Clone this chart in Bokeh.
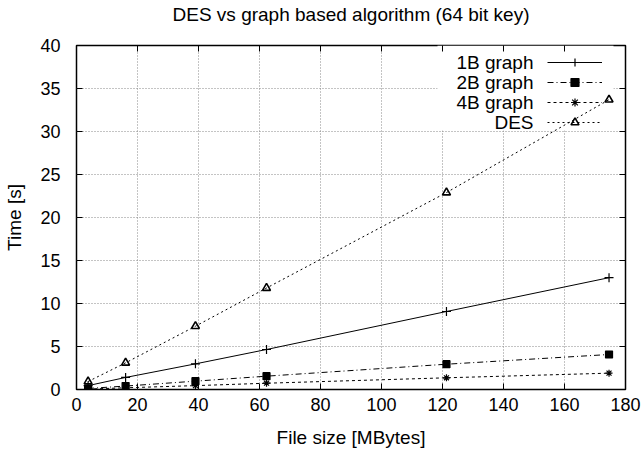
from bokeh.plotting import figure
from bokeh.models import (Range1d, FixedTicker, LinearAxis, Legend, LegendItem,
                          Label, BoxAnnotation)
from bokeh.embed import file_html
from bokeh.resources import INLINE

file_size = [3.8, 16.1, 39.0, 62.3, 121.3, 174.6]
t_1b = [0.45, 1.40, 2.98, 4.65, 9.07, 13.0]
t_2b = [0.12, 0.40, 0.97, 1.55, 2.94, 4.07]
t_4b = [0.05, 0.20, 0.45, 0.73, 1.36, 1.90]
t_des = [0.93, 3.10, 7.36, 11.8, 22.9, 33.7]
series_labels = ["1B graph", "2B graph", "4B graph", "DES"]
x_ticks = [0, 20, 40, 60, 80, 100, 120, 140, 160, 180]
y_ticks = [0, 5, 10, 15, 20, 25, 30, 35, 40]
title_text = "DES vs graph based algorithm (64 bit key)"

FONT = "Liberation Sans"

p = figure(width=644, height=453, output_backend="svg", toolbar_location=None,
           x_range=Range1d(0, 180), y_range=Range1d(0, 40),
           min_border_left=76, min_border_right=19, min_border_top=45, min_border_bottom=64)

p.outline_line_color = "black"
p.outline_line_width = 1.5

for ax in [p.xaxis[0], p.yaxis[0]]:
    ax.major_label_text_font = FONT
    ax.major_label_text_font_size = "18px"
    ax.major_label_text_color = "black"
    ax.axis_label_text_font = FONT
    ax.axis_label_text_font_size = "19px"
    ax.axis_label_text_font_style = "normal"
    ax.axis_label_text_color = "black"
    ax.major_tick_in = 6
    ax.major_tick_out = 0
    ax.minor_tick_line_color = None
    ax.axis_line_color = None
    ax.major_tick_line_color = "black"

p.xaxis[0].ticker = FixedTicker(ticks=x_ticks)
p.yaxis[0].ticker = FixedTicker(ticks=y_ticks)
p.xaxis[0].axis_label = "File size [MBytes]"
p.yaxis[0].axis_label = "Time [s]"
p.xaxis[0].major_label_standoff = 8
p.xaxis[0].axis_label_standoff = 13
p.yaxis[0].major_label_standoff = 16
p.yaxis[0].axis_label_standoff = 12

# mirrored ticks; the top axis also carries the chart title
top = LinearAxis(ticker=FixedTicker(ticks=x_ticks), major_label_text_font_size="1px",
                 major_label_text_color=None,
                 major_tick_in=6, major_tick_out=0, minor_tick_line_color=None,
                 axis_line_color=None, major_label_standoff=0,
                 axis_label=title_text, axis_label_standoff=21,
                 axis_label_text_font=FONT, axis_label_text_font_size="19px",
                 axis_label_text_font_style="normal", axis_label_text_color="black")
right = LinearAxis(ticker=FixedTicker(ticks=y_ticks), major_label_text_font_size="1px",
                   major_label_text_color=None,
                   major_tick_in=6, major_tick_out=0, minor_tick_line_color=None,
                   axis_line_color=None, major_label_standoff=0)
p.add_layout(top, "above")
p.add_layout(right, "right")

for g in [p.xgrid[0], p.ygrid[0]]:
    g.grid_line_color = "#888888"
    g.grid_line_dash = "1 2"
    g.grid_line_width = 1
p.xgrid[0].ticker = FixedTicker(ticks=x_ticks)
p.ygrid[0].ticker = FixedTicker(ticks=y_ticks)

# white key box hiding the grid (as gnuplot does)
key_box = BoxAnnotation(left=361, right=537, bottom=259, top=344,
                        left_units="screen", right_units="screen",
                        bottom_units="screen", top_units="screen",
                        fill_color="white", fill_alpha=1, line_color=None,
                        level="underlay")
p.add_layout(key_box)

styles = [
    (t_1b, "solid", "cross", 9, "black", 1.2),
    (t_2b, "6 3 1 3", "square", 7, "black", 1.2),
    (t_4b, "3 3", "asterisk", 7, None, 1.2),
    (t_des, "2 3", "triangle", 8, None, 1.6),
]
items = []
for (ys, dash, marker, size, fill, lw), lab in zip(styles, series_labels):
    lr = p.line(file_size, ys, line_color="black", line_width=1, line_dash=dash)
    sr = p.scatter(file_size, ys, marker=marker, size=size, line_color="black",
                   fill_color=fill if fill else None, line_width=lw)
    items.append(LegendItem(label=lab, renderers=[lr, sr]))

legend = Legend(items=items, location=(471, 257), orientation="vertical",
                glyph_width=55, glyph_height=20, label_height=20, spacing=0,
                padding=0, margin=0, label_standoff=0, label_width=0,
                label_text_font_size="1px", label_text_alpha=0,
                border_line_color=None, background_fill_alpha=0)
p.add_layout(legend, "center")

for i, lab in enumerate(series_labels):
    p.add_layout(Label(x=457, y=327 - 20 * i, x_units="screen", y_units="screen",
                       text=lab, text_align="right", text_baseline="middle",
                       text_font=FONT, text_font_size="19px", text_color="black"))

open("out.html", "w").write(file_html(p, INLINE))
